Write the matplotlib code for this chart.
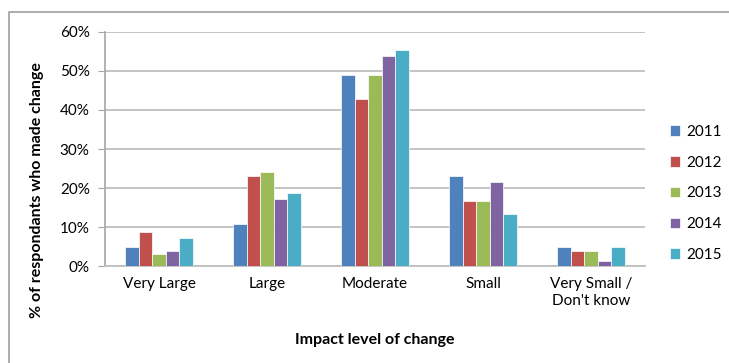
import numpy as np
import matplotlib
matplotlib.use("Agg")
import matplotlib.pyplot as plt
from matplotlib.lines import Line2D

plt.rcParams['font.family'] = ['Lato', 'DejaVu Sans']

# survey results, share of respondents per impact level
categories = ["Very Large", "Large", "Moderate", "Small", "Very Small /\nDon't know"]
years = ["2011", "2012", "2013", "2014", "2015"]
v2011 = [4.8, 10.9, 49.0, 23.0, 4.8]
v2012 = [8.7, 23.0, 42.8, 16.8, 3.9]
v2013 = [3.0, 24.0, 49.0, 16.8, 3.9]
v2014 = [3.9, 17.3, 53.8, 21.5, 1.4]
v2015 = [7.2, 18.8, 55.3, 13.3, 4.8]
colors = ["#4F81BD", "#C0504D", "#9BBB59", "#8064A2", "#4BACC6"]

series = [v2011, v2012, v2013, v2014, v2015]

fig = plt.figure(figsize=(7.29, 3.63), dpi=100)
ax = fig.add_axes([0.144, 0.267, 0.741, 0.645])

x = np.arange(len(categories))
w = 0.125
for i, (vals, yr, c) in enumerate(zip(series, years, colors)):
    ax.bar(x + (i - 2) * w, vals, w, color=c, edgecolor="white", linewidth=0.5,
           label=yr, zorder=3)

ax.set_xlim(-0.5, len(categories) - 0.5)
ax.set_ylim(0, 60)
ax.set_yticks(range(0, 61, 10))
ax.set_yticklabels([f"{t}%" for t in range(0, 61, 10)], fontsize=11)
ax.set_xticks(x)
ax.set_xticklabels(categories, fontsize=11, linespacing=1.3)
ax.tick_params(axis="x", length=0, pad=8)
ax.tick_params(axis="y", length=5, color="#a6a6a6", pad=6)

ax.grid(axis="y", color="#bfbfbf", linewidth=1.3, zorder=0)
for s in ["top", "right"]:
    ax.spines[s].set_visible(False)
ax.spines["left"].set_color("#a6a6a6")
ax.spines["bottom"].set_color("#bfbfbf")
ax.spines["left"].set_linewidth(1.2)
ax.spines["bottom"].set_linewidth(1.3)

ax.set_ylabel("% of respondants who made change", fontsize=11.5, fontweight="bold")
ax.yaxis.set_label_coords(-0.112, 0.325)
ax.set_xlabel("Impact level of change", fontsize=11.5, fontweight="bold", labelpad=18)

ax.legend(loc="center left", bbox_to_anchor=(1.02, 0.31), frameon=False, fontsize=11,
          handlelength=0.7, handleheight=0.7, labelspacing=1.1, handletextpad=0.4)

# chart area border
fig.add_artist(Line2D([9 / 729, 9 / 729, 1.0], [0.0, 1 - 12 / 363, 1 - 12 / 363],
                      transform=fig.transFigure, color="#a0a0a0", linewidth=1.2))

fig.savefig("out.png", dpi=100)
